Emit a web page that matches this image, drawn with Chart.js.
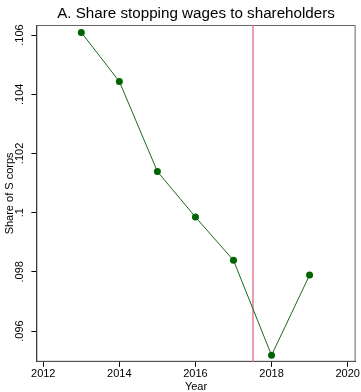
<!DOCTYPE html>
<html>
<head>
<meta charset="utf-8">
<script src="https://cdn.jsdelivr.net/npm/chart.js@4.4.1/dist/chart.umd.min.js"></script>
<style>
  html, body { margin: 0; padding: 0; background: #ffffff; }
  #wrap { width: 361px; height: 392px; position: relative; }
</style>
</head>
<body>
<div id="wrap"><canvas id="chart"></canvas></div>
<script>
// Data
const years = [2013, 2014, 2015, 2016, 2017, 2018, 2019];
const shareStopping = [0.10609, 0.10443, 0.10139, 0.09985, 0.09839, 0.09518, 0.09789];
const xTickValues = [2012, 2014, 2016, 2018, 2020];
const yTickValues = [0.096, 0.098, 0.100, 0.102, 0.104, 0.106];
const reformYear = 2017.5; // vertical marker
const titleText = 'A. Share stopping wages to shareholders';

// Stata style labels: .106, .1
function stataLabel(v) {
    let s = (Math.round(v * 1000) / 1000).toString();
    return s.replace(/^0\./, '.');
}

// frame, red reference line, title centred over the plot region
const framePlugin = {
    id: 'framePlugin',
    beforeDatasetsDraw(chart) {
        const { ctx, chartArea: a, scales } = chart;
        ctx.save();
        ctx.strokeStyle = '#666666';
        ctx.lineWidth = 1;
        ctx.strokeRect(a.left + 0.5, a.top + 0.5, a.right - a.left - 1, a.bottom - a.top - 1);
        const x = Math.round(scales.x.getPixelForValue(reformYear));
        ctx.strokeStyle = '#de7c97';
        ctx.lineWidth = 1.5;
        ctx.beginPath();
        ctx.moveTo(x, a.top);
        ctx.lineTo(x, a.bottom);
        ctx.stroke();

        ctx.fillStyle = '#000000';
        ctx.font = '15.2px "Liberation Sans"';
        ctx.textAlign = 'center';
        ctx.textBaseline = 'alphabetic';
        ctx.fillText(titleText, (a.left + a.right) / 2, 18);
        ctx.restore();
    }
};

const ctx = document.getElementById('chart').getContext('2d');
new Chart(ctx, {
    type: 'line',
    data: {
        datasets: [{
            data: years.map((y, i) => ({ x: y, y: shareStopping[i] })),
            borderColor: '#1a6b1a',
            borderWidth: 1,
            pointRadius: 3.5,
            pointBackgroundColor: '#006400',
            pointBorderColor: '#006400',
            pointBorderWidth: 0,
            tension: 0
        }]
    },
    options: {
        responsive: true,
        maintainAspectRatio: false,
        animation: false,
        layout: { padding: { left: 3, right: 5, top: 25, bottom: -1 } },
        plugins: {
            legend: { display: false },
            tooltip: { enabled: false },
            title: { display: false }
        },
        scales: {
            x: {
                type: 'linear',
                min: 2011.82,
                max: 2020.21,
                afterBuildTicks(scale) { scale.ticks = xTickValues.map(v => ({ value: v })); },
                grid: { drawOnChartArea: false, drawTicks: true, tickLength: 5, color: '#000000' },
                border: { display: true, color: '#000000', width: 1 },
                ticks: {
                    color: '#000000',
                    font: { family: 'Liberation Sans', size: 11, lineHeight: 1.1 },
                    padding: 1,
                    maxRotation: 0,
                    callback: v => v.toString()
                },
                title: {
                    display: true,
                    text: 'Year',
                    color: '#000000',
                    font: { family: 'Liberation Sans', size: 11, lineHeight: 1.1 },
                    padding: { top: 0, bottom: 0 }
                }
            },
            y: {
                type: 'linear',
                min: 0.09496,
                max: 0.10634,
                afterBuildTicks(scale) { scale.ticks = yTickValues.map(v => ({ value: v })); },
                grid: { drawOnChartArea: false, drawTicks: true, tickLength: 5, color: '#000000' },
                border: { display: true, color: '#000000', width: 1 },
                ticks: {
                    color: '#000000',
                    font: { family: 'Liberation Sans', size: 11 },
                    minRotation: 90,
                    maxRotation: 90,
                    crossAlign: 'center',
                    padding: 1,
                    callback: v => stataLabel(v)
                },
                title: {
                    display: true,
                    text: 'Share of S corps',
                    color: '#000000',
                    font: { family: 'Liberation Sans', size: 11 },
                    padding: { top: 0, bottom: 0 }
                }
            }
        }
    },
    plugins: [framePlugin]
});
</script>
</body>
</html>
